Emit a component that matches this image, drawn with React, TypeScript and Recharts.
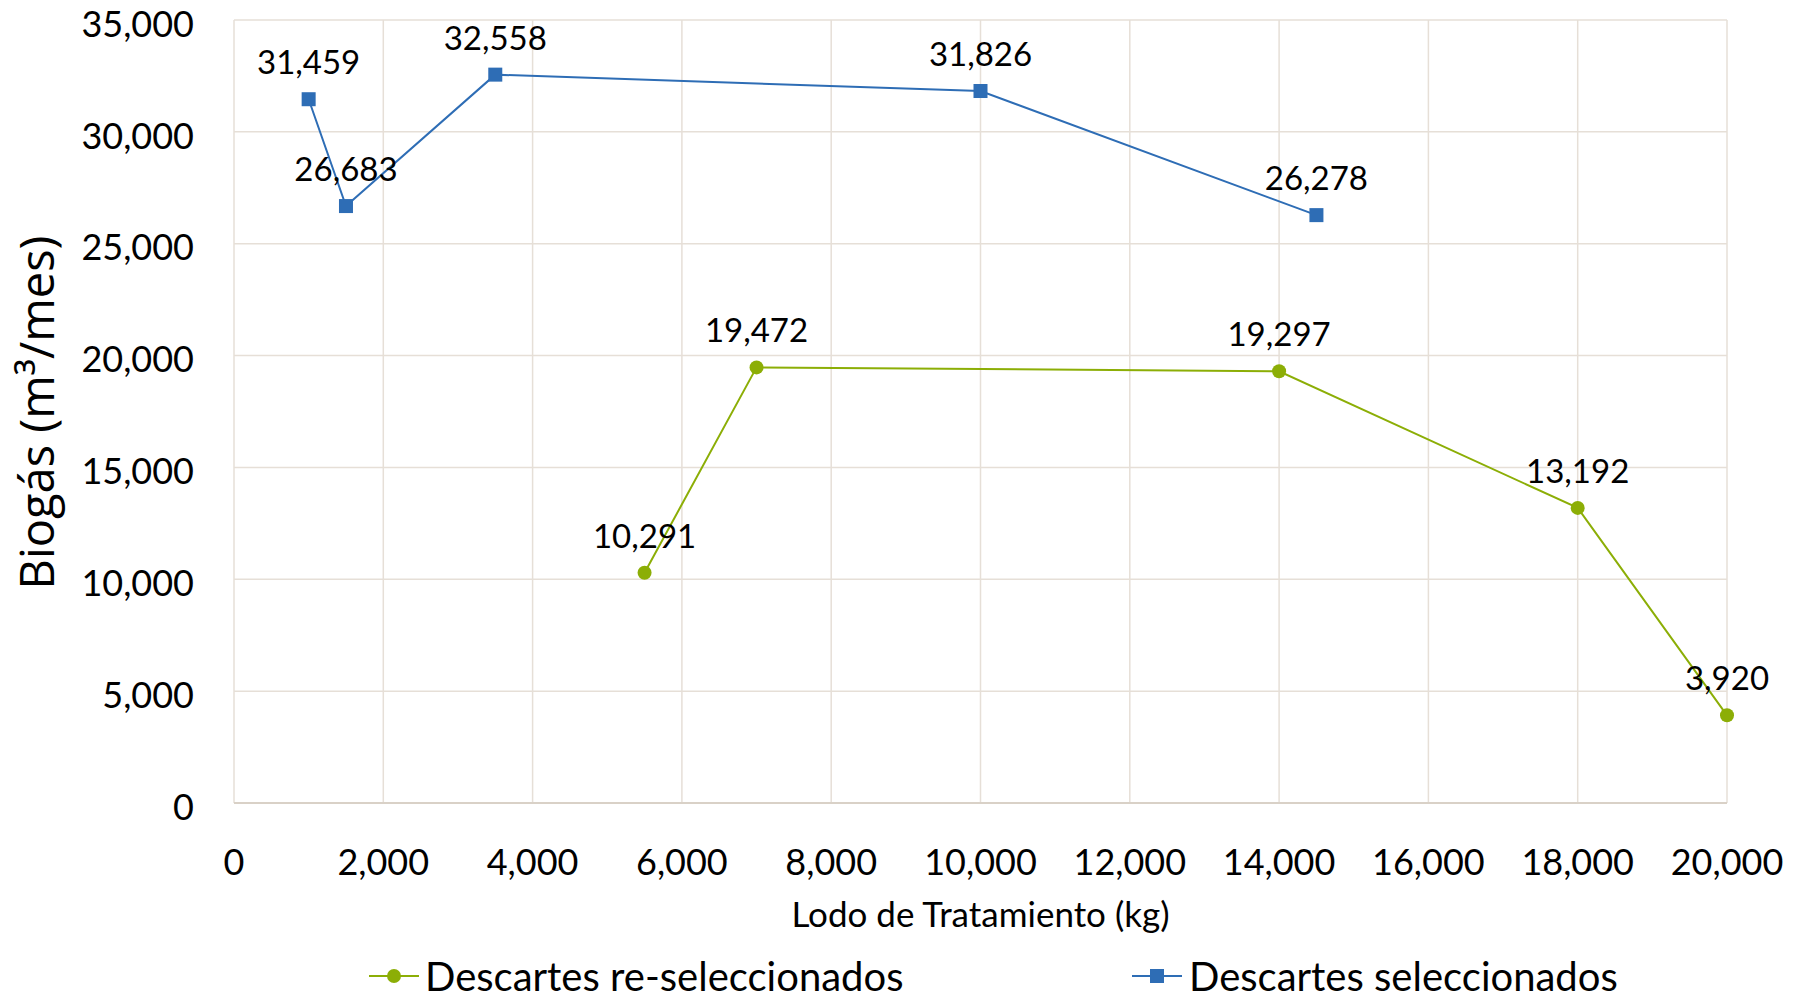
import React from 'react';
import { LineChart, Line, XAxis, YAxis, CartesianGrid, Legend, LabelList, Label } from 'recharts';

// Data
const reSelX = [5500, 7000, 14000, 18000, 20000];
const reSelY = [10291, 19472, 19297, 13192, 3920];
const selX = [1000, 1500, 3500, 10000, 14500];
const selY = [31459, 26683, 32558, 31826, 26278];
const xTicks = [0, 2000, 4000, 6000, 8000, 10000, 12000, 14000, 16000, 18000, 20000];
const yTicks = [0, 5000, 10000, 15000, 20000, 25000, 30000, 35000];
const seriesNames = ['Descartes re-seleccionados', 'Descartes seleccionados'];
const xTitle = 'Lodo de Tratamiento (kg)';
const yTitle = 'Biogás (m³/mes)';

const reSelData = reSelX.map((x, i) => ({ x, y: reSelY[i] }));
const selData = selX.map((x, i) => ({ x, y: selY[i] }));

const GREEN = '#8cae06';
const BLUE = '#2e6db5';
const GRID = '#e6dfd7';
const NUMFONT = 'Lato, "Open Sans", sans-serif';
const fmt = (v: number) => v.toLocaleString('en-US');

const SquareDot = (props: any) => {
  const { cx, cy } = props;
  if (cx == null || cy == null) return null;
  return <rect x={cx - 7} y={cy - 7} width={14} height={14} fill={BLUE} />;
};

const CircleDot = (props: any) => {
  const { cx, cy } = props;
  if (cx == null || cy == null) return null;
  return <circle cx={cx} cy={cy} r={7} fill={GREEN} />;
};

const LegendContent = () => (
  <div style={{ height: 60, boxSizing: 'border-box', paddingTop: 6, paddingBottom: 6, display: 'flex', alignItems: 'center', paddingLeft: 369, fontFamily: NUMFONT, fontSize: 40, lineHeight: '44px', color: '#000' }}>
    <div style={{ display: 'flex', alignItems: 'center' }}>
      <svg width={50} height={20}>
        <line x1={0} y1={10} x2={50} y2={10} stroke={GREEN} strokeWidth={2} />
        <circle cx={25} cy={10} r={7} fill={GREEN} />
      </svg>
      <span style={{ marginLeft: 6, width: 707, whiteSpace: 'nowrap' }}>{seriesNames[0]}</span>
    </div>
    <div style={{ display: 'flex', alignItems: 'center' }}>
      <svg width={50} height={20}>
        <line x1={0} y1={10} x2={50} y2={10} stroke={BLUE} strokeWidth={2} />
        <rect x={18} y={3} width={14} height={14} fill={BLUE} />
      </svg>
      <span style={{ marginLeft: 7, whiteSpace: 'nowrap' }}>{seriesNames[1]}</span>
    </div>
  </div>
);

const YTitle = (props: any) => {
  const vb = props.viewBox || { x: 0, y: 0, width: 0, height: 0 };
  const cx = vb.x + 36;
  const cy = vb.y + vb.height / 2 + 1;
  return (
    <text x={cx} y={cy} transform={`rotate(-90 ${cx} ${cy})`} textAnchor="middle" dominantBaseline="central"
      style={{ fontFamily: '"Open Sans", sans-serif', fontSize: 47, fill: '#000' }}>
      {yTitle}
    </text>
  );
};

export default function App() {
  const tickStyle = { fontFamily: NUMFONT, fontSize: 36, fill: '#000' } as any;
  return (
    <div style={{ position: 'absolute', left: 0, top: 0, width: 1799, height: 1006, background: '#fff' }}>
      <LineChart width={1799} height={1006} margin={{ top: 20, right: 72, left: 0, bottom: 0 }}>
        <CartesianGrid stroke={GRID} strokeWidth={1.5} vertical horizontal />
        <XAxis dataKey="x" type="number" domain={[0, 20000]} ticks={xTicks} tickFormatter={fmt}
          height={143} tickSize={0} tickMargin={46} stroke="#d9d1c7" strokeWidth={2} tick={tickStyle}
          allowDuplicatedCategory={false} interval={0}>
          <Label value={xTitle} position="insideBottom" offset={19}
            style={{ fontFamily: NUMFONT, fontSize: 35, fill: '#000' }} />
        </XAxis>
        <YAxis type="number" domain={[0, 35000]} ticks={yTicks} tickFormatter={fmt} width={234}
          tickSize={0} tickMargin={40} axisLine={false} tick={{ ...tickStyle, dy: 4 }} interval={0}>
          <Label content={<YTitle />} position="insideLeft" />
        </YAxis>
        <Legend verticalAlign="bottom" height={60} content={<LegendContent />} />
        <Line data={reSelData} dataKey="y" name={seriesNames[0]} stroke={GREEN} strokeWidth={2}
          dot={<CircleDot />} activeDot={false} isAnimationActive={false}>
          <LabelList dataKey="y" position="top" offset={25} formatter={fmt as any}
            style={{ fontFamily: NUMFONT, fontSize: 33, fill: '#000' } as any} />
        </Line>
        <Line data={selData} dataKey="y" name={seriesNames[1]} stroke={BLUE} strokeWidth={2}
          dot={<SquareDot />} activeDot={false} isAnimationActive={false}>
          <LabelList dataKey="y" position="top" offset={25} formatter={fmt as any}
            style={{ fontFamily: NUMFONT, fontSize: 33, fill: '#000' } as any} />
        </Line>
      </LineChart>
    </div>
  );
}
